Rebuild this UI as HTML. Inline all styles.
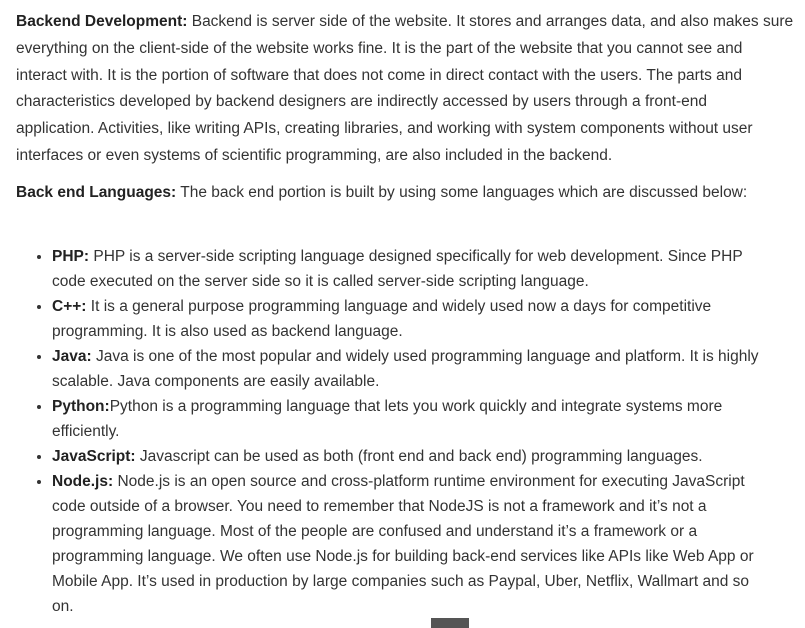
<!DOCTYPE html>
<html><head><meta charset="utf-8">
<style>
html,body{margin:0;padding:0;background:#fff;width:805px;height:628px;overflow:hidden;}
body{font-family:"Liberation Sans",sans-serif;font-size:15.5px;color:#333;}
p{margin:0;position:absolute;left:16px;white-space:nowrap;}
#p1{top:9px;line-height:26.8px;}
#p2{top:180px;line-height:26px;}
ul{position:absolute;left:0;top:244px;margin:0;padding:0 0 0 52px;list-style:disc;line-height:25px;white-space:nowrap;}
li{margin:0;}
b{color:#222;}
#bar{position:absolute;left:431px;top:618px;width:38px;height:10px;background:#555;}
</style></head><body>
<p id="p1"><b>Backend Development:</b> Backend is server side of the website. It stores and arranges data, and also makes sure<br>everything on the client-side of the website works fine. It is the part of the website that you cannot see and<br>interact with. It is the portion of software that does not come in direct contact with the users. The parts and<br>characteristics developed by backend designers are indirectly accessed by users through a front-end<br>application. Activities, like writing APIs, creating libraries, and working with system components without user<br>interfaces or even systems of scientific programming, are also included in the backend.</p>
<p id="p2"><b>Back end Languages:</b> The back end portion is built by using some languages which are discussed below:</p>
<ul>
<li><b>PHP:</b> PHP is a server-side scripting language designed specifically for web development. Since PHP<br>code executed on the server side so it is called server-side scripting language.</li>
<li><b>C++:</b> It is a general purpose programming language and widely used now a days for competitive<br>programming. It is also used as backend language.</li>
<li><b>Java:</b> Java is one of the most popular and widely used programming language and platform. It is highly<br>scalable. Java components are easily available.</li>
<li><b>Python:</b>Python is a programming language that lets you work quickly and integrate systems more<br>efficiently.</li>
<li><b>JavaScript:</b> Javascript can be used as both (front end and back end) programming languages.</li>
<li><b>Node.js:</b> Node.js is an open source and cross-platform runtime environment for executing JavaScript<br>code outside of a browser. You need to remember that NodeJS is not a framework and it’s not a<br>programming language. Most of the people are confused and understand it’s a framework or a<br>programming language. We often use Node.js for building back-end services like APIs like Web App or<br>Mobile App. It’s used in production by large companies such as Paypal, Uber, Netflix, Wallmart and so<br>on.</li>
</ul>
<div id="bar"></div>
</body></html>
